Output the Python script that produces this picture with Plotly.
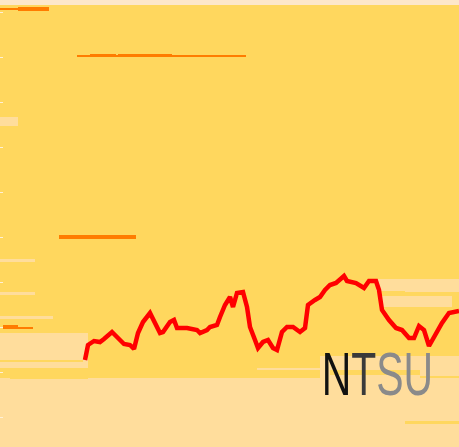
import plotly.graph_objects as go

# Red series (x position, value)
line_x = [85, 88, 94, 100, 104, 112, 118, 124, 130, 134, 138, 143, 150, 155, 160, 163, 170, 174, 177, 187,
          197, 200, 207, 210, 217, 220, 225, 230, 233, 237, 243, 247, 250, 255, 258, 263, 268, 273, 277, 282,
          287, 293, 300, 305, 308, 315, 320, 325, 330, 336, 344, 347, 356, 364, 369, 376, 379, 382, 389, 396,
          402, 409, 414, 419, 424, 429, 436, 442, 449, 459]
line_y = [87, 102, 106, 105, 108, 115, 109, 103, 102, 98, 114, 125, 134, 124, 114, 115, 125, 127, 119, 119,
          117, 114, 117, 120, 122, 130, 142, 150, 140, 154, 155, 140, 120, 107, 99, 105, 107, 99, 97, 115,
          120, 120, 115, 119, 142, 147, 150, 157, 162, 164, 171, 166, 164, 159, 166, 166, 157, 137, 127, 119,
          117, 109, 109, 121, 117, 101, 114, 124, 134, 136]

# Orange level segments: start, end, level, thickness
lvl_start = [0, 18, 77, 90, 118, 59, 3, 3]
lvl_end = [49, 49, 246, 116, 172, 136, 33, 18]
lvl_val = [438.5, 438, 391, 392, 392, 210, 119.5, 120]
lvl_thk = [2, 4, 2, 3, 3, 4, 2, 4]

# Light background bands: start, end, center, thickness
band_start = [0, 0, 0, 0, 0, 0, 0, 376, 382, 320, 257]
band_end = [459, 459, 18, 35, 35, 53, 88, 459, 452, 459, 322]
band_val = [444.5, 34.5, 325.5, 186.5, 153.5, 129.5, 96.5, 162, 146, 80, 78]
band_thk = [5, 69, 9, 3, 3, 3, 35, 13, 11, 22, 2]

# Yellow streaks: start, end, center, thickness
stk_start = [0, 376, 405, 330, 420, 10]
stk_end = [83, 405, 459, 420, 459, 88]
stk_val = [86, 155, 24.5, 75, 70.5, 72]
stk_thk = [2, 2, 3, 5, 2, 8]

YELLOW = "#FFD75E"
LIGHT = "#FFDD9C"
CREAM = "#FDE7CA"
ORANGE = "#FF7C00"

fig = go.Figure()

band_cols = [CREAM] + [LIGHT] * (len(band_val) - 1)
fig.add_trace(go.Bar(orientation="h", y=band_val, base=band_start,
                     x=[e - s for s, e in zip(band_start, band_end)],
                     width=band_thk, marker=dict(color=band_cols, line=dict(width=0)),
                     hoverinfo="skip"))
fig.add_trace(go.Bar(orientation="h", y=stk_val, base=stk_start,
                     x=[e - s for s, e in zip(stk_start, stk_end)],
                     width=stk_thk, marker=dict(color=YELLOW, line=dict(width=0)),
                     hoverinfo="skip"))
fig.add_trace(go.Bar(orientation="h", y=lvl_val, base=lvl_start,
                     x=[e - s for s, e in zip(lvl_start, lvl_end)],
                     width=lvl_thk, marker=dict(color=ORANGE, line=dict(width=0)),
                     hoverinfo="skip"))
fig.add_trace(go.Scatter(x=line_x, y=line_y, mode="lines",
                         line=dict(color="#FF0000", width=4.5), hoverinfo="skip"))

fig.add_annotation(x=377, y=74, xref="x", yref="y", showarrow=False,
                   text="<span style='color:#111111'>N</span><span style='color:#3a3a3a'>T</span>"
                        "<span style='color:#8a8a8a'>S</span><span style='color:#8a8a8a'>U</span>",
                   font=dict(family="Liberation Sans, Arial, sans-serif", size=62))

fig.update_layout(
    width=459, height=447,
    margin=dict(l=0, r=0, t=0, b=0),
    plot_bgcolor=YELLOW, paper_bgcolor=LIGHT,
    showlegend=False, barmode="overlay", bargap=0,
    xaxis=dict(range=[0, 459], visible=False, fixedrange=True),
    yaxis=dict(range=[0, 447], showgrid=False, zeroline=False, showline=False,
               showticklabels=False, ticks="inside", ticklen=3, tickcolor="#FFF0D6",
               tick0=30, dtick=45, fixedrange=True),
)

post = """
document.body.style.margin='0';
document.body.style.overflow='hidden';
var gd=document.getElementById('{plot_id}');
gd.querySelectorAll('.annotation-text').forEach(function(t){
  t.style.transformBox='fill-box';
  t.style.transformOrigin='center';
  t.style.transform='scaleX(0.66)';
});
"""

fig.write_html("out.html", post_script=post, config={"displayModeBar": False, "staticPlot": True})
